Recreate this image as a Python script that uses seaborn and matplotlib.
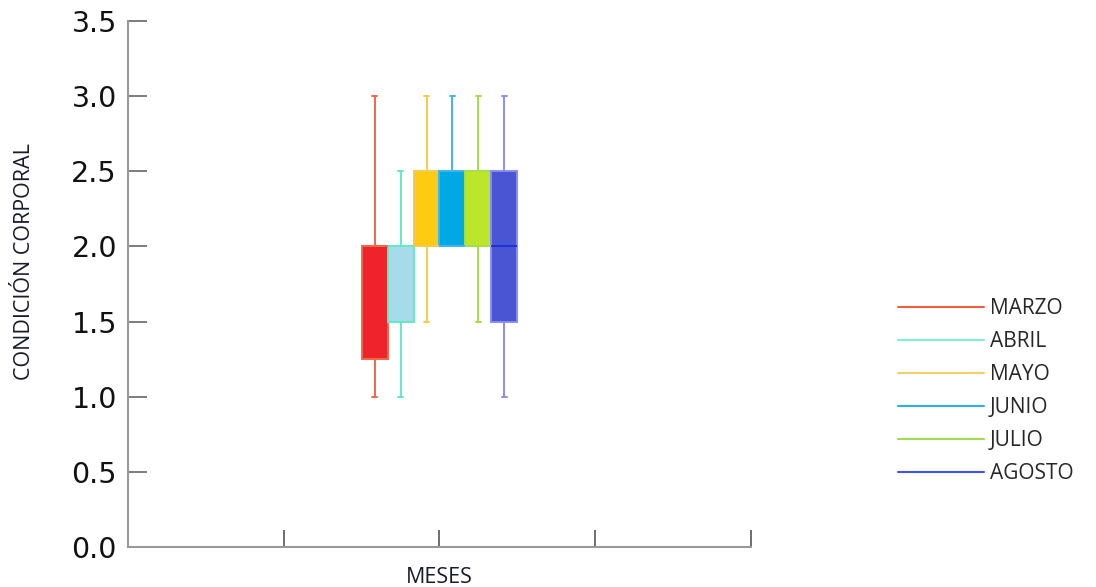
import matplotlib
matplotlib.use("Agg")
import matplotlib.pyplot as plt
from matplotlib.lines import Line2D
import seaborn as sns
import pandas as pd

# months (hue levels) and five readings each: min, q1, median, q3, max
meses = ["MARZO", "ABRIL", "MAYO", "JUNIO", "JULIO", "AGOSTO"]
marzo = [1.0, 1.25, 2.0, 2.0, 3.0]
abril = [1.0, 1.5, 2.0, 2.0, 2.5]
mayo = [1.5, 2.0, 2.0, 2.5, 3.0]
junio = [2.0, 2.0, 2.0, 2.5, 3.0]
julio = [1.5, 2.0, 2.0, 2.5, 3.0]
agosto = [1.0, 1.5, 2.0, 2.5, 3.0]
y_ticks = [0.0, 0.5, 1.0, 1.5, 2.0, 2.5, 3.0, 3.5]

valores = [marzo, abril, mayo, junio, julio, agosto]
rows = []
for mes, vals in zip(meses, valores):
    for v in vals:
        rows.append({"grupo": "MESES", "mes": mes, "cc": v})
df = pd.DataFrame(rows)

fill_colors = {"MARZO": "#EE232B", "ABRIL": "#A6DCE9", "MAYO": "#FECB12",
               "JUNIO": "#00A9E6", "JULIO": "#BBE62A", "AGOSTO": "#4A55D3"}
line_colors = {"MARZO": "#F2664A", "ABRIL": "#62EAC6", "MAYO": "#F4CB4A",
               "JUNIO": "#3CB6EE", "JULIO": "#A2E048", "AGOSTO": "#8A8CF2"}
legend_colors = {"MARZO": "#F0603C", "ABRIL": "#7FF0D2", "MAYO": "#F2D063",
                 "JUNIO": "#2FAEEF", "JULIO": "#9DE04A", "AGOSTO": "#3F4FF0"}

sns.set_theme(style="white")
plt.rcParams["font.family"] = ["DejaVu Sans"]

fig = plt.figure(figsize=(10.96, 5.87), dpi=100)
ax = fig.add_axes([0.1168, 0.0681, 0.5684, 0.896])

sns.boxplot(data=df, x="grupo", y="cc", hue="mes", hue_order=meses,
            palette=fill_colors, width=1.0, gap=0, whis=1.5, saturation=1,
            linecolor="#888888", linewidth=1.4, capwidths=0.03,
            legend=False, ax=ax)

# give each month its own edge / whisker colour
for mes, cont in zip(meses, ax.containers):
    lc = line_colors[mes]
    for b in cont.boxes:
        b.set_edgecolor(lc)
        b.set_facecolor(fill_colors[mes])
    for ln in list(cont.whiskers) + list(cont.caps):
        ln.set_color(lc)
    for ln in cont.medians:
        ln.set_color("#1F2FE0" if mes == "AGOSTO" else lc)

ax.set_xlim(-2, 2)
ax.set_ylim(0, 3.5)
ax.set_xticks([-1, 0, 1, 2])
ax.set_xticklabels([])
ax.set_yticks(y_ticks)
ax.set_yticklabels(["%.1f" % t for t in y_ticks], fontsize=20.5, color="#111111")
ax.tick_params(axis="y", left=True, direction="in", length=14, width=1.2, color="#666666", pad=8)
ax.tick_params(axis="x", bottom=True, direction="in", length=12, width=1.2, color="#555555")

for s in ["top", "right"]:
    ax.spines[s].set_visible(False)
for s in ["left", "bottom"]:
    ax.spines[s].set_color("#999999")
    ax.spines[s].set_linewidth(1.5)

lab_font = ["Open Sans", "DejaVu Sans"]
ax.set_xlabel("MESES", fontsize=15.5, family=lab_font, color="#1a1a2e")
ax.set_ylabel("CONDICIÓN CORPORAL", fontsize=15.5, family=lab_font, color="#1a1a2e")
ax.xaxis.set_label_coords(0.5, -0.038)
ax.yaxis.set_label_coords(-0.15, 0.542)

handles = [Line2D([0], [0], color=legend_colors[m], lw=1.5) for m in meses]
fig.legend(handles, meses, loc="upper left", bbox_to_anchor=(0.81, 0.51),
           frameon=False, handlelength=4.1, handletextpad=0.3,
           labelspacing=0.58, borderpad=0, prop={"family": lab_font, "size": 15})

plt.savefig("out.png", dpi=100)
plt.close()
